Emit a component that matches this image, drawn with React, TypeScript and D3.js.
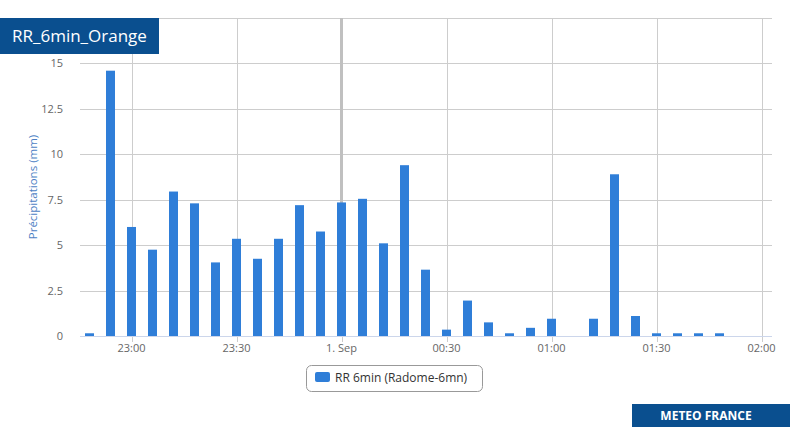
import React from "react";
import * as d3 from "d3";

const times: string[] = [
  "22:48", "22:54", "23:00", "23:06", "23:12", "23:18", "23:24", "23:30", "23:36", "23:42",
  "23:48", "23:54", "00:00", "00:06", "00:12", "00:18", "00:24", "00:30", "00:36", "00:42",
  "00:48", "00:54", "01:00", "01:06", "01:12", "01:18", "01:24", "01:30", "01:36", "01:42", "01:48",
];
const values: number[] = [
  0.15, 14.6, 6.0, 4.75, 7.95, 7.3, 4.05, 5.35, 4.25, 5.35,
  7.2, 5.75, 7.35, 7.55, 5.1, 9.4, 3.65, 0.35, 1.95, 0.75,
  0.15, 0.45, 0.95, 0, 0.95, 8.9, 1.1, 0.15, 0.15, 0.15, 0.15,
];
const yTicks: number[] = [0, 2.5, 5, 7.5, 10, 12.5, 15, 17.5];
const yTickLabels: string[] = ["0", "2.5", "5", "7.5", "10", "12.5", "15", ""];
const xTicks: string[] = ["23:00", "23:30", "00:00", "00:30", "01:00", "01:30", "02:00"];
const xTickLabels: string[] = ["23:00", "23:30", "1. Sep", "00:30", "01:00", "01:30", "02:00"];
const title = "RR_6min_Orange";
const yTitle = "Précipitations (mm)";
const legendLabel = "RR 6min (Radome-6mn)";
const footer = "METEO FRANCE";

function toDate(s: string): Date {
  const [h, m] = s.split(":").map(Number);
  const day = h >= 12 ? 31 : 32; // Aug 31 evening -> Sep 1 morning
  return new Date(Date.UTC(2023, 7, day, h, m, 0));
}

const W = 790;
const H = 427;
const L = 80;
const R = 772;
const T = 18;
const B = 336;

export default function App() {
  const t0 = toDate("23:00");
  const x = d3
    .scaleTime()
    .domain([new Date(t0.getTime() - (51.5 / 3.5) * 60000), new Date(t0.getTime() + (R - 131.5) / 3.5 * 60000)])
    .range([L, R]);
  const y = d3.scaleLinear().domain([0, 17.5]).range([B, T]);
  const barW = 9;
  const font = "'Open Sans', 'DejaVu Sans', sans-serif";
  const grid = "#cdcdcd";
  const mid = x(toDate("00:00"));

  return (
    <svg
      width={W}
      height={H}
      style={{ position: "absolute", left: 0, top: 0, background: "#fff" }}
      fontFamily={font}
    >
      {yTicks.map((v) => (
        <line key={"h" + v} x1={L} x2={R} y1={Math.round(y(v)) + 0.5} y2={Math.round(y(v)) + 0.5} stroke={grid} strokeWidth={1} />
      ))}
      {xTicks.map((t) => {
        const xx = Math.round(x(toDate(t))) + 0.5;
        return <line key={"v" + t} x1={xx} x2={xx} y1={T} y2={B + 6} stroke={grid} strokeWidth={1} />;
      })}
      <line x1={mid} x2={mid} y1={T} y2={B} stroke="#c0c0c0" strokeWidth={3} />
      {values.map((v, i) =>
        v > 0 ? (
          <rect
            key={"b" + i}
            x={x(toDate(times[i])) - barW / 2}
            y={y(v)}
            width={barW}
            height={y(0) - y(v)}
            fill="#2f7ed8"
          />
        ) : null
      )}
      <line x1={L} x2={R} y1={B + 0.5} y2={B + 0.5} stroke="#ccd6eb" strokeWidth={1} />
      {yTicks.map((v, i) => (
        <text key={"yl" + v} x={63} y={y(v) + 4} textAnchor="end" fontSize={11} fill="#666">
          {yTickLabels[i]}
        </text>
      ))}
      {xTicks.map((t, i) => (
        <text key={"xl" + t} x={x(toDate(t))} y={352} textAnchor="middle" fontSize={11} fill="#666">
          {xTickLabels[i]}
        </text>
      ))}
      <text
        transform={`translate(37,${(T + B) / 2 + 10}) rotate(-90)`}
        textAnchor="middle"
        fontSize={11.5}
        fill="#4d7fc4"
      >
        {yTitle}
      </text>
      <rect x={0} y={18} width={159} height={36} fill="#0a4f8f" />
      <text x={12} y={42} fontSize={17} fill="#fff" fontWeight={500}>
        {title}
      </text>
      <rect x={306.5} y={365.5} width={176} height={26} rx={5} ry={5} fill="#fff" stroke="#999" strokeWidth={1} />
      <rect x={315} y={372} width={15} height={10} rx={2} fill="#2f7ed8" />
      <text x={335} y={382} fontSize={12} fill="#333">
        {legendLabel}
      </text>
      <rect x={632} y={404} width={158} height={23} fill="#0a4f8f" />
      <text x={706} y={419.5} textAnchor="middle" fontSize={12} fontWeight={700} fill="#fff">
        {footer}
      </text>
    </svg>
  );
}
